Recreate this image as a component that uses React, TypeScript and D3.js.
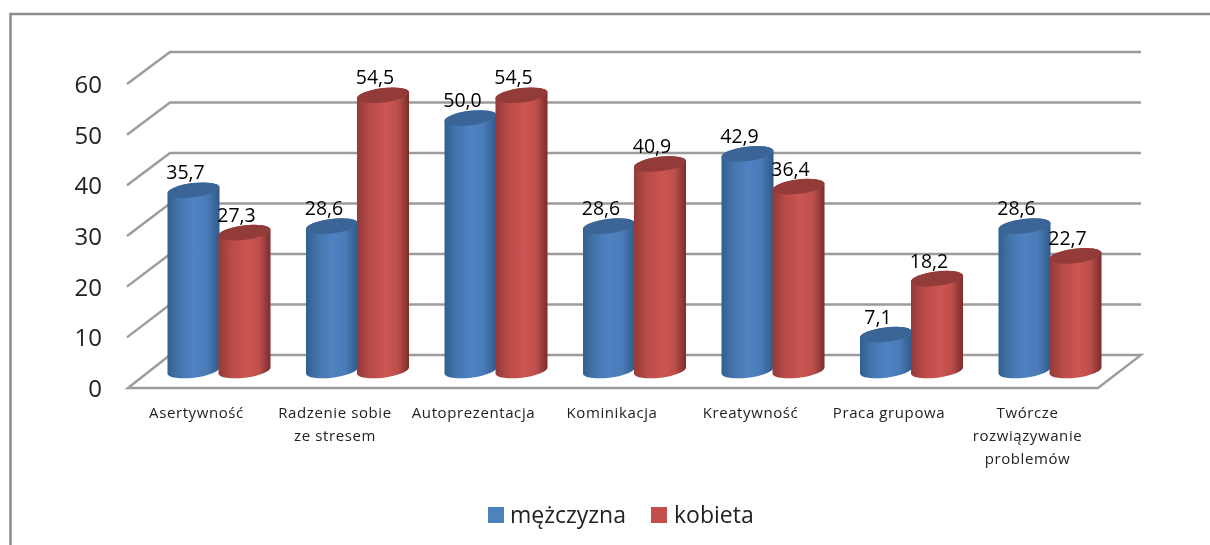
import React from "react";
import * as d3 from "d3";

const categories = ["Asertywność", "Radzenie sobie\nze stresem", "Autoprezentacja", "Kominikacja", "Kreatywność", "Praca grupowa", "Twórcze\nrozwiązywanie\nproblemów"];
const male = [35.7, 28.6, 50.0, 28.6, 42.9, 7.1, 28.6];
const female = [27.3, 54.5, 54.5, 40.9, 36.4, 18.2, 22.7];
const ticks = [0, 10, 20, 30, 40, 50, 60];
const seriesNames = ["mężczyzna", "kobieta"];

const W = 1210, H = 545;
const FONT = "'Open Sans', 'Noto Sans', sans-serif";
const fmt = (v: number) => v.toFixed(1).replace(".", ",");

const yBack = d3.scaleLinear().domain([0, 60]).range([355, 52]);
const yFront = d3.scaleLinear().domain([0, 60]).range([388, 84]);
const yBar = d3.scaleLinear().domain([0, 60]).range([370.5, 67.5]);
const xGroup = d3.scaleBand<number>().domain(d3.range(categories.length)).range([149.25, 1118.75]).padding(0);
const BAR_W = 52;
const RX = 26.2, RY = 7.2, TILT = -7;

function ellipsePath(cx: number, cy: number) {
  const a = (TILT * Math.PI) / 180;
  const dx = RX * Math.cos(a), dy = RX * Math.sin(a);
  return `M${cx - dx},${cy - dy}A${RX},${RY} ${TILT} 1 1 ${cx + dx},${cy + dy}A${RX},${RY} ${TILT} 1 1 ${cx - dx},${cy - dy}Z`;
}
function bodyPath(cx: number, top: number, base: number) {
  const a = (TILT * Math.PI) / 180;
  const dx = RX * Math.cos(a), dy = RX * Math.sin(a);
  return `M${cx - dx},${top - dy}L${cx - dx},${base - dy}A${RX},${RY} ${TILT} 0 0 ${cx + dx},${base + dy}L${cx + dx},${top + dy}A${RX},${RY} ${TILT} 0 0 ${cx - dx},${top - dy}Z`;
}

function Bar({ cx, v, kind }: { cx: number; v: number; kind: string }) {
  const top = yBar(v), base = yBar(0);
  return (
    <g>
      <path d={bodyPath(cx, top, base)} fill={`url(#grad-${kind})`} />
      <path d={ellipsePath(cx, top)} fill={kind === "b" ? "#3a6597" : "#933b39"} />
    </g>
  );
}

export default function App() {
  const gridColor = "#9c9c9c";
  return (
    <svg width={W} height={H} style={{ position: "absolute", left: 0, top: 0, background: "#fff" }}>
      <defs>
        <linearGradient id="grad-b" x1="0" x2="1" y1="0" y2="0">
          <stop offset="0" stopColor="#31608f" />
          <stop offset="0.22" stopColor="#4474ac" />
          <stop offset="0.5" stopColor="#4f82c2" />
          <stop offset="0.75" stopColor="#4b7cb9" />
          <stop offset="1" stopColor="#2f5a8a" />
        </linearGradient>
        <linearGradient id="grad-r" x1="0" x2="1" y1="0" y2="0">
          <stop offset="0" stopColor="#933a38" />
          <stop offset="0.25" stopColor="#b94b48" />
          <stop offset="0.55" stopColor="#cc5552" />
          <stop offset="0.78" stopColor="#bd4f4c" />
          <stop offset="1" stopColor="#7a2d2b" />
        </linearGradient>
        <filter id="soft" x="-2%" y="-2%" width="104%" height="104%">
          <feGaussianBlur stdDeviation="0.55" />
        </filter>
      </defs>
      <g filter="url(#soft)">
        <path d={`M10.5,${H + 5}V14H${W + 5}`} fill="none" stroke="#8a8a8a" strokeWidth={2.5} />
        {ticks.filter((t) => t > 0).map((t) => (
          <path key={t} d={`M127,${yFront(t)}L170,${yBack(t)}H1141`} fill="none" stroke={gridColor} strokeWidth={2.4} />
        ))}
        <path d={`M128,${yFront(0)}L170,${yBack(0)}H1141L1098,${yFront(0)}Z`} fill="none" stroke={gridColor} strokeWidth={2.4} />
        {ticks.map((t) => (
          <text key={t} x={102} y={yFront(t) + 9} textAnchor="end" fontFamily={FONT} fontSize={24} fill="#222">{t}</text>
        ))}
        {categories.map((_, i) => {
          const c = (xGroup(i) as number) + xGroup.bandwidth() / 2;
          return (
            <g key={i}>
              <Bar cx={c - BAR_W / 2 + 1} v={male[i]} kind="b" />
              <Bar cx={c + BAR_W / 2} v={female[i]} kind="r" />
            </g>
          );
        })}
        {categories.map((cat, i) => {
          const c = (xGroup(i) as number) + xGroup.bandwidth() / 2;
          return (
            <g key={i}>
              <text x={c - BAR_W / 2 + 1 - 8} y={yBar(male[i]) - 11} textAnchor="middle" fontFamily={FONT} fontSize={19.5} fill="#000">{fmt(male[i])}</text>
              <text x={c + BAR_W / 2 - 8} y={yBar(female[i]) - 11} textAnchor="middle" fontFamily={FONT} fontSize={19.5} fill="#000">{fmt(female[i])}</text>
              {cat.split("\n").map((line, j) => (
                <text key={j} x={c - 22} y={418 + j * 23} textAnchor="middle" fontFamily={FONT} fontSize={15} letterSpacing={0.6} fill="#222">{line}</text>
              ))}
            </g>
          );
        })}
        <rect x={488} y={507} width={16} height={16} fill="#4f81bd" />
        <text x={510} y={523} fontFamily={FONT} fontSize={23} fill="#222">{seriesNames[0]}</text>
        <rect x={651} y={507} width={16} height={16} fill="#c0504d" />
        <text x={674} y={523} fontFamily={FONT} fontSize={23} fill="#222">{seriesNames[1]}</text>
      </g>
    </svg>
  );
}
